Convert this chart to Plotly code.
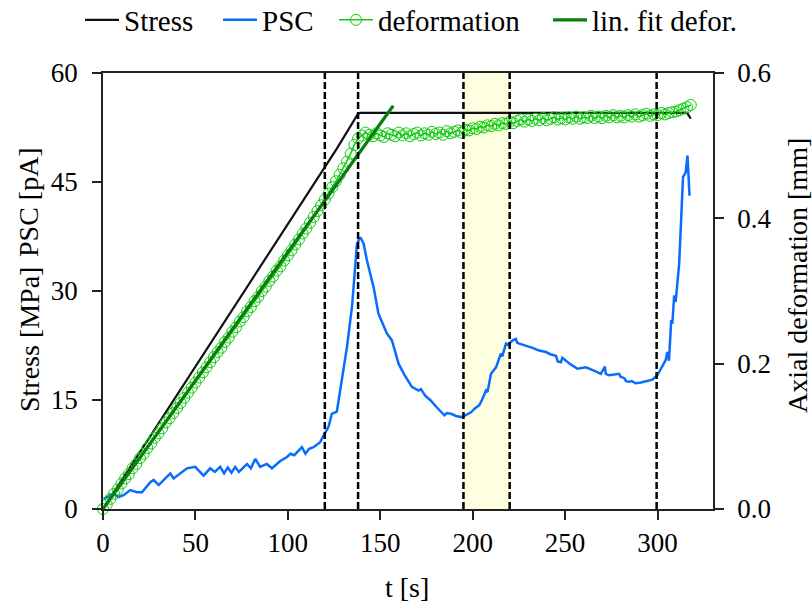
import plotly.graph_objects as go

# ---------------- data ----------------
stress_t = [0, 30, 60, 89, 90.5, 108, 125, 126.5, 138, 139, 200, 250, 300, 316, 318]
stress = [0, 11.8, 23.6, 35.0, 35.6, 42.4, 49.1, 49.6, 54.4, 54.5, 54.5, 54.5, 54.5, 54.5, 53.7]

psc_t = [0.3, 5.7, 8.4, 11.1, 14.8, 18.4, 21.1, 25.6, 27.4, 30.1, 33.7, 36.4, 38.2, 41.8,
         45.4, 49.9, 52.0, 54.4, 58.0, 60.5, 63.4, 65.5, 67.5, 69.5, 71.5, 73.5, 75.5,
         77.9, 80.0, 82.4, 85.0, 88.6, 91.4, 95.9, 99.5, 101.5, 103.5, 105.5, 107.6,
         109.5, 111.5, 113.9, 117.5, 119.3, 122.0, 123.8, 126.5, 128.3, 132.0, 134.7,
         137.4, 139.2, 141.0, 142.8, 146.4, 149.0, 151.0, 153.5, 156.3, 159.9, 163.0,
         167.1, 170.7, 172.0, 174.3, 177.0, 180.5, 184.7, 186.0, 188.3, 191.0, 193.7,
         196.0, 199.1, 201.0, 203.6, 205.0, 207.2, 208.0, 209.9, 212.6, 215.3, 216.0,
         218.0, 219.0, 221.6, 223.4, 224.0, 225.2, 228.8, 232.0, 236.0, 239.6, 242.0,
         245.0, 246.0, 247.7, 248.5, 250.4, 253.0, 256.7, 261.2, 265.0, 269.3, 271.5,
         272.0, 273.8, 276.0, 279.2, 280.0, 282.0, 283.0, 284.6, 286.0, 288.2, 291.0,
         294.0, 297.2, 299.9, 302.0, 304.4, 305.3, 306.2, 307.4, 308.0, 309.0, 309.8,
         311.7, 313.8, 315.2, 316.2, 317.3]
psc = [1.4, 2.1, 1.65, 1.9, 2.6, 2.3, 2.3, 3.7, 4.0, 3.3, 4.2, 4.9, 4.2, 4.9,
       5.6, 5.8, 5.2, 4.6, 5.6, 5.1, 5.8, 4.9, 5.7, 5.0, 5.8, 5.1, 5.6,
       6.2, 5.6, 6.9, 5.8, 6.2, 5.6, 6.6, 7.15, 7.6, 7.4, 7.9, 8.5,
       7.6, 8.3, 8.5, 9.2, 10.1, 11.3, 13.1, 13.4, 16.3, 22.3, 27.8,
       36.5, 37.4, 36.5, 34.2, 30.5, 26.9, 25.8, 24.2, 23.2, 20.0, 18.5,
       16.8, 16.3, 16.5, 15.6, 15.0, 14.0, 12.9, 13.2, 13.1, 12.8, 12.65,
       12.9, 13.3, 13.8, 14.3, 15.0, 16.3, 16.1, 18.6, 19.5, 21.4, 21.0,
       22.75, 22.6, 23.2, 23.4, 22.9, 22.75, 22.5, 22.2, 21.8, 21.6, 21.3,
       21.1, 20.3, 20.2, 20.8, 20.4, 19.9, 19.3, 19.5, 19.1, 18.6, 19.6,
       18.6, 18.4, 18.5, 18.6, 18.2, 18.0, 17.6, 17.5, 17.6, 17.3, 17.4,
       17.6, 17.8, 18.4, 19.3, 20.5, 21.6, 20.4, 26.0, 25.5, 29.4, 28.5,
       33.75, 45.7, 46.3, 48.65, 43.1]

defo_t = list(range(0, 320, 2))
defo = [0.000, 0.006, 0.014, 0.021, 0.027, 0.035, 0.042, 0.048, 0.056, 0.062,
        0.070, 0.076, 0.084, 0.090, 0.098, 0.104, 0.111, 0.119, 0.125, 0.132,
        0.139, 0.146, 0.153, 0.160, 0.167, 0.174, 0.181, 0.188, 0.195, 0.202,
        0.209, 0.216, 0.222, 0.230, 0.236, 0.244, 0.250, 0.258, 0.264, 0.272,
        0.278, 0.286, 0.292, 0.300, 0.306, 0.314, 0.320, 0.328, 0.334, 0.342,
        0.349, 0.356, 0.364, 0.371, 0.379, 0.386, 0.394, 0.402, 0.410, 0.418,
        0.426, 0.434, 0.443, 0.451, 0.460, 0.469, 0.478, 0.489, 0.501, 0.510,
        0.514, 0.518, 0.515, 0.513, 0.517, 0.514, 0.512, 0.517, 0.515, 0.513,
        0.518, 0.514, 0.517, 0.513, 0.516, 0.518, 0.514, 0.517, 0.515, 0.519,
        0.516, 0.518, 0.515, 0.520, 0.517, 0.519, 0.521, 0.518, 0.522, 0.521,
        0.524, 0.523, 0.526, 0.525, 0.528, 0.527, 0.530, 0.528, 0.531, 0.530,
        0.533, 0.531, 0.534, 0.536, 0.533, 0.536, 0.534, 0.537, 0.535, 0.538,
        0.535, 0.537, 0.539, 0.536, 0.538, 0.536, 0.539, 0.537, 0.540, 0.537,
        0.539, 0.538, 0.541, 0.538, 0.540, 0.538, 0.541, 0.539, 0.542, 0.539,
        0.541, 0.539, 0.542, 0.540, 0.543, 0.540, 0.542, 0.544, 0.541, 0.543,
        0.542, 0.545, 0.543, 0.545, 0.546, 0.547, 0.549, 0.551, 0.553, 0.556]

fit_t = [0, 157]
fit_d = [0.0, 0.555]

phase_lines = [120, 138, 195, 220, 299.5]
band = [195, 220]

x_ticks = [0, 50, 100, 150, 200, 250, 300]
y_ticks = [0, 15, 30, 45, 60]
y2_ticks = [0.0, 0.2, 0.4, 0.6]

FONT = "Liberation Serif"

# plot area geometry (pixels)
L, R, T, B = 103, 99, 73, 94
PW = 812 - L - R
PH = 603 - T - B

def px_x(p):
    return (p - L) / PW

def px_y(p):
    return (603 - B - p) / PH

fig = go.Figure()
fig.add_trace(go.Scatter(x=stress_t, y=stress, mode="lines", name="Stress", legend="legend",
                         line=dict(color="#111111", width=2.2)))
fig.add_trace(go.Scatter(x=psc_t, y=psc, mode="lines", name="PSC", legend="legend2",
                         line=dict(color="#0a6cff", width=2.5)))
fig.add_trace(go.Scatter(x=defo_t, y=defo, mode="lines+markers", name="deformation",
                         legend="legend3", yaxis="y2", cliponaxis=False,
                         line=dict(color="#10cc10", width=1.5),
                         marker=dict(symbol="circle-open", size=11, color="#10cc10",
                                     line=dict(width=1, color="#10cc10"))))
fig.add_trace(go.Scatter(x=fit_t, y=fit_d, mode="lines", name="lin. fit defor.",
                         legend="legend4", yaxis="y2", line=dict(color="#0a7d0a", width=3.2)))

shapes = [dict(type="rect", xref="x", yref="paper", x0=band[0], x1=band[1], y0=0, y1=1,
               fillcolor="#fefee0", line=dict(width=0), layer="below")]
for xv in phase_lines:
    shapes.append(dict(type="line", xref="x", yref="paper", x0=xv, x1=xv, y0=0, y1=1,
                       line=dict(color="black", width=2.5, dash="7px,3px"), layer="above"))

axis_common = dict(showline=True, linecolor="#222222", linewidth=1.5, ticks="outside",
                   ticklen=9, tickwidth=1.5, tickcolor="#222222", showgrid=False,
                   zeroline=False, tickfont=dict(family=FONT, size=27, color="black"))

def leg(xpix):
    return dict(orientation="h", x=px_x(xpix), xanchor="left", y=px_y(20), yanchor="middle",
                font=dict(family=FONT, size=29), bgcolor="rgba(0,0,0,0)", borderwidth=0,
                itemwidth=34)

fig.update_layout(
    width=812, height=603,
    margin=dict(l=L, r=R, t=T, b=B, autoexpand=False),
    paper_bgcolor="white", plot_bgcolor="white",
    font=dict(family=FONT, size=27, color="black"),
    shapes=shapes,
    xaxis=dict(range=[0, 330], tickvals=x_ticks, mirror=True, **axis_common),
    yaxis=dict(range=[0, 60], tickvals=y_ticks, ticklabelstandoff=9, **axis_common),
    yaxis2=dict(range=[0, 0.6], tickvals=y2_ticks, tickformat=".1f", overlaying="y",
                side="right", ticklabelstandoff=8, **axis_common),
    legend=leg(80),
    legend2=leg(218),
    legend3=leg(334),
    legend4=leg(548),
    showlegend=True,
    annotations=[
        dict(text="t [s]", xref="paper", yref="paper", x=px_x(407), y=px_y(587), showarrow=False,
             xanchor="center", yanchor="middle", font=dict(family=FONT, size=28)),
        dict(text="Stress [MPa]", xref="paper", yref="paper", x=px_x(29), y=px_y(340),
             showarrow=False, textangle=-90, xanchor="center", yanchor="middle",
             font=dict(family=FONT, size=28)),
        dict(text="PSC [pA]", xref="paper", yref="paper", x=px_x(29), y=px_y(202),
             showarrow=False, textangle=-90, xanchor="center", yanchor="middle",
             font=dict(family=FONT, size=28)),
        dict(text="Axial deformation [mm]", xref="paper", yref="paper",
             x=px_x(797), y=px_y(276),
             showarrow=False, textangle=-90, xanchor="center", yanchor="middle",
             font=dict(family=FONT, size=28)),
    ],
)

fig.write_html("out.html")
